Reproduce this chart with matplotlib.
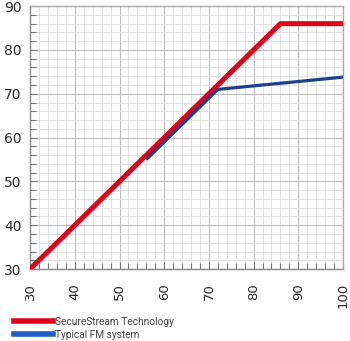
import matplotlib.pyplot as plt
from matplotlib.lines import Line2D
from matplotlib.ticker import MultipleLocator

# data
secure_x = [30, 86, 100]
secure_y = [30, 86, 86]
fm_x = [56, 72, 100]
fm_y = [55, 71, 73.8]
labels = ['SecureStream Technology', 'Typical FM system']

red = '#e2001a'
blue = '#1d3f8f'

fig = plt.figure(figsize=(3.5, 3.41), dpi=100)
ax = fig.add_axes([0.086, 0.211, 0.894, 0.771])

ax.plot(secure_x, secure_y, color=red, lw=3.6, solid_capstyle='butt', zorder=3)
ax.plot(fm_x, fm_y, color=blue, lw=2.3, solid_capstyle='butt', zorder=4)

ax.set_xlim(30, 100)
ax.set_ylim(30, 90)
ax.xaxis.set_major_locator(MultipleLocator(10))
ax.yaxis.set_major_locator(MultipleLocator(10))
ax.xaxis.set_minor_locator(MultipleLocator(2))
ax.yaxis.set_minor_locator(MultipleLocator(2))

ax.grid(which='minor', color='#dedede', lw=0.6)
ax.grid(which='major', color='#bdbdbd', lw=0.8)
ax.set_axisbelow(True)

ax.tick_params(which='both', direction='in', colors='#777777', width=0.8)
ax.tick_params(which='major', length=5)
ax.tick_params(which='minor', length=4)
ax.tick_params(axis='y', labelsize=10, labelcolor='#2a2a2a', pad=6)
ax.tick_params(axis='x', labelsize=9.5, labelcolor='#2a2a2a', labelrotation=90, pad=10)

for side in ['left', 'bottom']:
    ax.spines[side].set_color('#888888')
    ax.spines[side].set_linewidth(1.0)
for side in ['top', 'right']:
    ax.spines[side].set_color('#aaaaaa')
    ax.spines[side].set_linewidth(1.0)

handles = [Line2D([], [], color=red, lw=4), Line2D([], [], color='#1f5cc4', lw=4)]
fig.legend(handles, labels, loc='lower left', bbox_to_anchor=(0.018, -0.02),
           frameon=False, prop={'family': 'Roboto', 'size': 7.3}, labelcolor='#444444',
           handlelength=3.8, handletextpad=0.2, labelspacing=0.3, borderpad=0.3)

fig.savefig('out.png', dpi=100)
